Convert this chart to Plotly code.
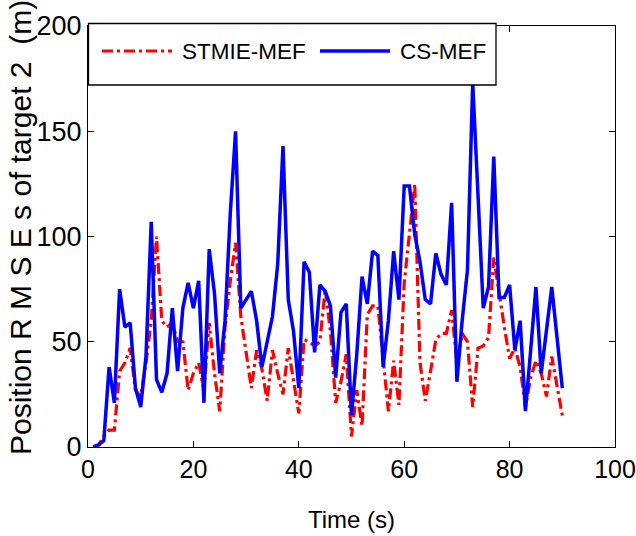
import plotly.graph_objects as go

time_s = list(range(1, 91))

stmie_mef = [0, 1, 5, 8, 8, 36, 40, 47, 27, 24,
             40, 60, 100, 60, 57, 59, 50, 50, 27, 35,
             40, 27, 59, 35, 17, 57, 79, 97, 62, 44,
             28, 46, 37, 22, 46, 35, 25, 47, 32, 16,
             51, 50, 48, 50, 75, 55, 21, 31, 44, 5,
             27, 10, 63, 67, 67, 40, 17, 41, 20, 78,
             101, 125, 40, 22, 36, 51, 54, 54, 65, 40,
             54, 50, 19, 47, 48, 52, 90, 73, 57, 42,
             47, 38, 19, 33, 41, 35, 24, 43, 29, 15]

cs_mef = [0, 1, 3, 38, 21, 75, 57, 59, 28, 19,
          43, 107, 32, 26, 35, 66, 36, 66, 78, 66,
          79, 21, 94, 73, 35, 60, 111, 150, 66, 70,
          74, 60, 38, 50, 62, 87, 143, 70, 55, 28,
          88, 83, 45, 77, 74, 67, 33, 64, 68, 15,
          44, 81, 68, 93, 91, 38, 60, 93, 70, 124,
          124, 101, 88, 70, 68, 92, 82, 77, 116, 31,
          60, 84, 173, 120, 66, 76, 138, 71, 71, 77,
          46, 60, 17, 46, 76, 35, 55, 76, 52, 28]

series_names = ["STMIE-MEF", "CS-MEF"]
x_ticks = [0, 20, 40, 60, 80, 100]
y_ticks = [0, 50, 100, 150, 200]

FONT = "Liberation Sans, Arial, Helvetica, sans-serif"
RED = "#ff0000"
BLUE = "#0000ff"
RED_DASH = "11px,4px,3px,4px"

fig = go.Figure()
fig.add_trace(go.Scatter(x=time_s, y=stmie_mef, mode="lines", name=series_names[0],
                         line=dict(color=RED, width=3.2, dash=RED_DASH)))
fig.add_trace(go.Scatter(x=time_s, y=cs_mef, mode="lines", name=series_names[1],
                         line=dict(color=BLUE, width=3.5)))

W, H = 636, 536
L, R, T, B = 88, 21, 26, 89
pw, ph = W - L - R, H - T - B

def px(xp):
    return (xp - L) / pw

def py(yp):
    return (H - B - yp) / ph

axis_common = dict(showgrid=False, zeroline=False, showline=True, linecolor="black",
                   linewidth=1.3, mirror="allticks", ticks="inside", ticklen=6,
                   tickcolor="black", ticklabeloverflow="allow", automargin=False)

fig.update_xaxes(range=[0, 100], tickvals=x_ticks, ticktext=[str(v) for v in x_ticks],
                 tickfont=dict(family=FONT, size=25, color="black"), **axis_common)
fig.update_yaxes(range=[0, 200], tickvals=y_ticks, ticktext=[str(v) for v in y_ticks],
                 tickfont=dict(family=FONT, size=27, color="black"), **axis_common)

# manual legend (box, line samples, labels)
shapes = [
    dict(type="rect", xref="paper", yref="paper", x0=px(88.5), x1=px(496), y0=py(85), y1=py(23.5),
         line=dict(color="black", width=1.3), fillcolor="white", layer="above"),
    dict(type="line", xref="paper", yref="paper", x0=px(102), x1=px(172), y0=py(51), y1=py(51),
         line=dict(color=RED, width=3.2, dash=RED_DASH), layer="above"),
    dict(type="line", xref="paper", yref="paper", x0=px(320), x1=px(390), y0=py(51), y1=py(51),
         line=dict(color=BLUE, width=3.5), layer="above"),
]
annotations = [
    dict(text=series_names[0], xref="paper", yref="paper", x=px(180), y=py(52),
         xanchor="left", yanchor="middle", showarrow=False,
         font=dict(family=FONT, size=22.5, color="black")),
    dict(text=series_names[1], xref="paper", yref="paper", x=px(398), y=py(52),
         xanchor="left", yanchor="middle", showarrow=False,
         font=dict(family=FONT, size=22.5, color="black")),
    dict(text="Time (s)", xref="paper", yref="paper", x=0.5, y=0, yshift=-72,
         xanchor="center", yanchor="middle", showarrow=False,
         font=dict(family=FONT, size=24, color="black")),
    dict(text="Position R M S E s of target 2  (m)", xref="paper", yref="paper",
         x=0, xshift=-(L - 20), y=py(228), xanchor="center", yanchor="middle",
         textangle=-90, showarrow=False,
         font=dict(family=FONT, size=30, color="black")),
]

fig.update_layout(width=W, height=H, margin=dict(l=L, r=R, t=T, b=B, pad=0, autoexpand=False),
                  paper_bgcolor="white", plot_bgcolor="white", showlegend=False,
                  shapes=shapes, annotations=annotations)

fig.write_html("out.html")
